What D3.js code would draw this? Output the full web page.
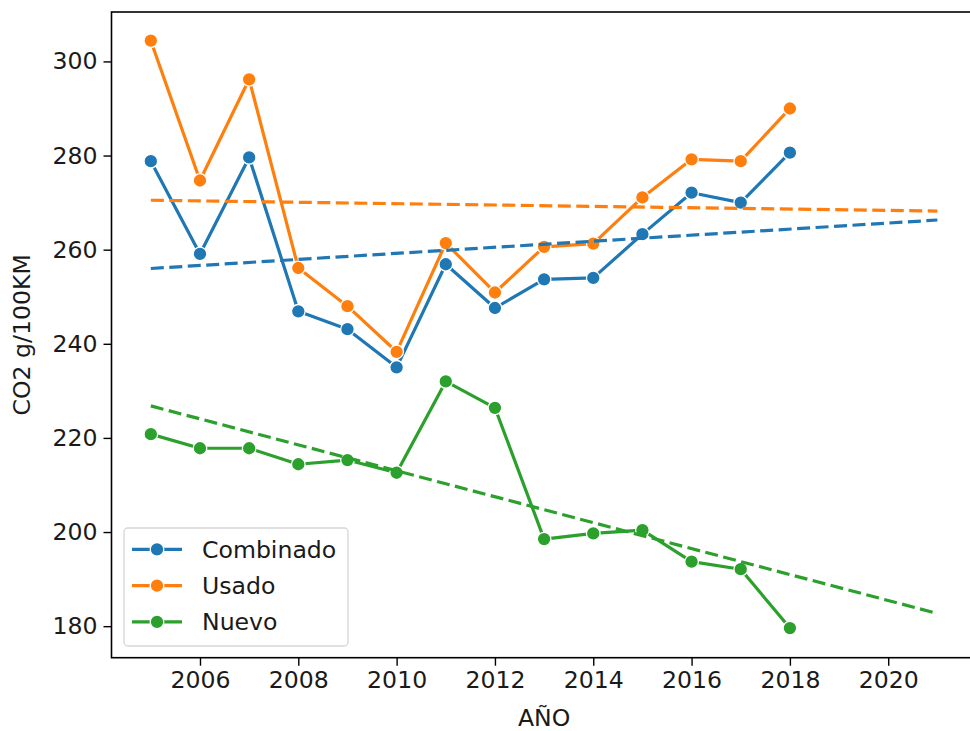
<!DOCTYPE html>
<html>
<head>
<meta charset="utf-8">
<script src="https://cdn.jsdelivr.net/npm/d3@7"></script>
<style>
  html, body { margin: 0; padding: 0; background: #fff; }
  svg { display: block; }
  text { font-family: "DejaVu Sans", sans-serif; fill: #1a1a1a; }
</style>
</head>
<body>
<div id="chart"></div>
<script>
// Years and yearly CO2 averages (g/100KM)
const years = [2005, 2006, 2007, 2008, 2009, 2010, 2011, 2012, 2013, 2014, 2015, 2016, 2017, 2018];
const combinado = [278.8, 259.1, 279.6, 246.9, 243.1, 235.0, 256.9, 247.6, 253.7, 254.0, 263.3, 272.1, 270.0, 280.6];
const usado     = [304.4, 274.7, 296.2, 256.1, 248.0, 238.3, 261.4, 250.9, 260.6, 261.3, 271.1, 279.2, 278.8, 290.0];
const nuevo     = [220.8, 217.8, 217.8, 214.4, 215.3, 212.6, 232.0, 226.4, 198.5, 199.7, 200.4, 193.7, 192.1, 179.6];

// Linear trend lines, start and end values
const trendYears = [2005, 2021];
const trendCombinado = [256.0, 266.3];
const trendUsado     = [270.5, 268.2];
const trendNuevo     = [226.8, 182.7];

const seriesNames = ["Combinado", "Usado", "Nuevo"];
const xTicks = [2006, 2008, 2010, 2012, 2014, 2016, 2018, 2020];
const yTicks = [180, 200, 220, 240, 260, 280, 300];
const xLabel = "AÑO";
const yLabel = "CO2 g/100KM";

const colors = ["#1f77b4", "#ff7f0e", "#2ca02c"];
const series = [combinado, usado, nuevo];
const trends = [trendCombinado, trendUsado, trendNuevo];

const W = 970, H = 731;
const plotL = 111.5, plotR = 976.7, plotT = 12, plotB = 657.7;
const fontSize = 23.6;

const svg = d3.select("#chart").append("svg")
  .attr("width", W).attr("height", H);

const x = d3.scaleLinear().domain([2004.2, 2021.8]).range([plotL, plotR]);
const y = d3.scaleLinear().domain([173.3, 310.5]).range([plotB, plotT]);

// Data lines with markers
const line = d3.line().x(d => x(d[0])).y(d => y(d[1]));
series.forEach((vals, i) => {
  const pts = years.map((yr, k) => [yr, vals[k]]);
  svg.append("path")
    .attr("d", line(pts))
    .attr("fill", "none")
    .attr("stroke", colors[i])
    .attr("stroke-width", 3.2)
    .attr("stroke-linejoin", "round");
  svg.append("g").selectAll("circle").data(pts).join("circle")
    .attr("cx", d => x(d[0]))
    .attr("cy", d => y(d[1]))
    .attr("r", 6.8)
    .attr("fill", colors[i])
    .attr("stroke", "#fff")
    .attr("stroke-width", 1.3);
});

// Dashed trend lines
trends.forEach((vals, i) => {
  const pts = trendYears.map((yr, k) => [yr, vals[k]]);
  svg.append("path")
    .attr("d", line(pts))
    .attr("fill", "none")
    .attr("stroke", colors[i])
    .attr("stroke-width", 3.2)
    .attr("stroke-dasharray", "13 5.5");
});

// Axes
const xAxis = d3.axisBottom(x).tickValues(xTicks).tickFormat(d3.format("d"))
  .tickSize(8).tickPadding(6);
const yAxis = d3.axisLeft(y).tickValues(yTicks).tickFormat(d3.format("d"))
  .tickSize(8).tickPadding(6);

const gx = svg.append("g").attr("transform", `translate(0,${plotB})`).call(xAxis);
const gy = svg.append("g").attr("transform", `translate(${plotL},0)`).call(yAxis);
[gx, gy].forEach(g => {
  g.select(".domain").remove();
  g.selectAll(".tick line").attr("stroke", "#000").attr("stroke-width", 1.4);
  g.selectAll(".tick text").attr("font-size", fontSize)
    .attr("font-family", "DejaVu Sans, sans-serif").attr("fill", "#1a1a1a");
});

// Frame
svg.append("rect")
  .attr("x", plotL).attr("y", plotT)
  .attr("width", plotR - plotL).attr("height", plotB - plotT)
  .attr("fill", "none").attr("stroke", "#000").attr("stroke-width", 1.6);

// Axis titles
svg.append("text")
  .attr("x", (plotL + plotR) / 2).attr("y", 725.5)
  .attr("text-anchor", "middle").attr("font-size", fontSize)
  .text(xLabel);
svg.append("text")
  .attr("transform", `translate(30,${(plotT + plotB) / 2}) rotate(-90)`)
  .attr("text-anchor", "middle").attr("font-size", fontSize)
  .text(yLabel);

// Legend
const lg = svg.append("g");
lg.append("rect")
  .attr("x", 124).attr("y", 528).attr("width", 224).attr("height", 118)
  .attr("rx", 4).attr("fill", "#fff").attr("fill-opacity", 0.8)
  .attr("stroke", "#d6d6d6").attr("stroke-width", 1.3);
seriesNames.forEach((name, i) => {
  const cy = 549.3 + i * 36.3;
  lg.append("line")
    .attr("x1", 132).attr("x2", 182).attr("y1", cy).attr("y2", cy)
    .attr("stroke", colors[i]).attr("stroke-width", 3.2);
  lg.append("circle")
    .attr("cx", 157).attr("cy", cy).attr("r", 6.8)
    .attr("fill", colors[i]).attr("stroke", "#fff").attr("stroke-width", 1.3);
  lg.append("text")
    .attr("x", 202).attr("y", cy).attr("dy", "0.36em")
    .attr("font-size", fontSize)
    .text(name);
});
</script>
</body>
</html>
